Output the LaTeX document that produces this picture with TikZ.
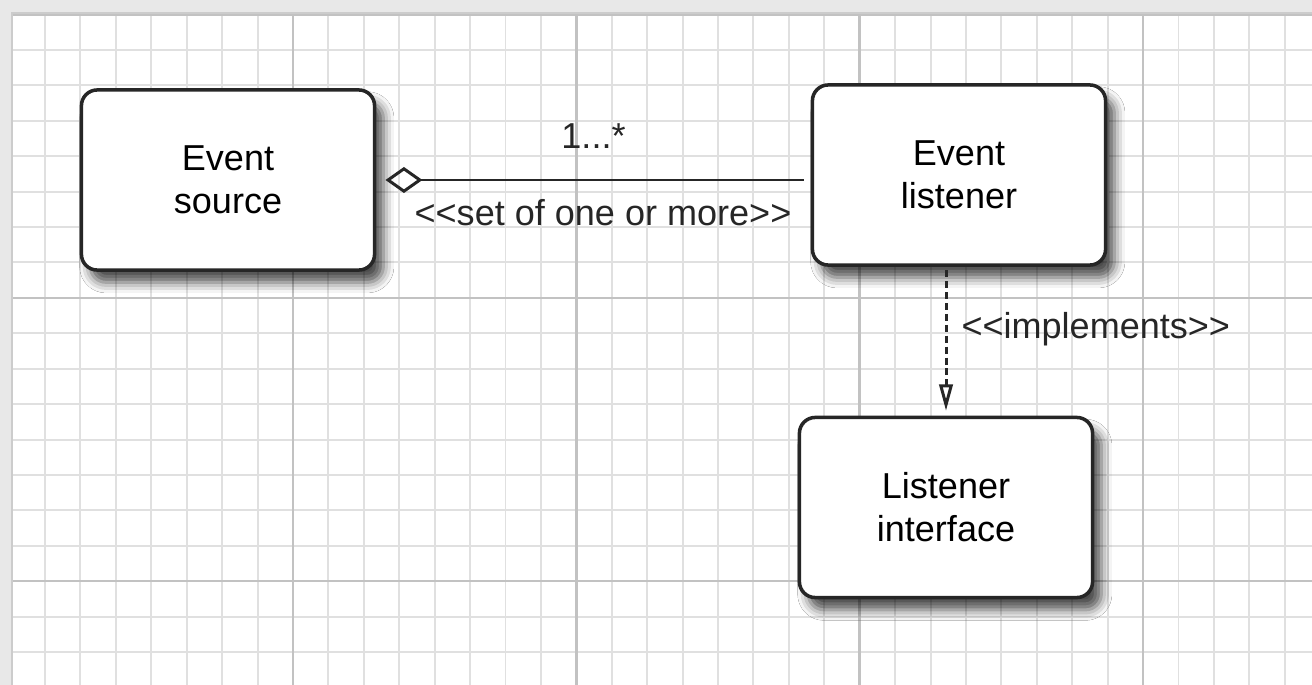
\documentclass[tikz,border=0pt]{standalone}
\usepackage{fontspec}
\setmainfont{Liberation Sans}
\usetikzlibrary{arrows.meta,positioning,shadows.blur}

\begin{document}
\begin{tikzpicture}[x=0.01cm, y=-0.01cm,
    classbox/.style={draw=black!85, line width=1pt, rounded corners=4.5pt, fill=white, minimum width=2.93cm, minimum height=1.8cm, align=center, font=\fontsize{10.25}{12.2}\selectfont, blur shadow={shadow xshift=2.5pt, shadow yshift=-3.5pt, shadow blur radius=3pt, shadow opacity=70}},
    tag/.style={inner sep=0pt, font=\fontsize{10.25}{12.2}\selectfont},
    aggregation/.style={{Diamond[open, length=10.5pt, width=7.4pt]}-, line width=0.85pt, black!85},
    realization/.style={-{Triangle[open, length=7.5pt, width=3.8pt]}, dash pattern=on 2pt off 1.1pt, line width=0.85pt, black!85},
    minorline/.style={black!12, line width=0.55pt},
    majorline/.style={black!24, line width=0.7pt}
]

% Sheet
\useasboundingbox (0,0) rectangle (1312,685);
\fill[black!9] (0,0) rectangle (1312,685);
\fill[white] (12,13) rectangle (1312,685);
\begin{scope}
\clip (12,13) rectangle (1312,685);
\draw[minorline, step=0.354cm, shift={(9.6,14.5)}] (-50,-50) grid (1350,700);
\draw[majorline, step=2.832cm, shift={(9.6,14.5)}] (-50,-50) grid (1350,700);
\end{scope}
\draw[black!20, line width=0.8pt] (12,685) -- (12,13) -- (1312,13);

% Classes
\node[classbox] (source) at (228,180) {Event\\source};
\node[classbox] (listener) at (959,175) {Event\\listener};
\node[classbox] (interface) at (946,507.5) {Listener\\interface};

% Aggregation
\draw[aggregation, shorten <=2.6pt, shorten >=2pt] (source.east) -- (source.east -| listener.west)
    node[tag, midway, above=8.5pt] (mult) {1...*}
    node[tag, midway, below=5pt, xshift=2.7pt] (setlbl) {<\kern0pt<set of one or more>\kern0pt>};

% Realization
\draw[realization, shorten <=1pt, shorten >=1.4pt] (listener.south -| interface.north) -- (interface.north)
    node[tag, pos=0.42, anchor=west, xshift=4pt] (impl) {<\kern0pt<implements>\kern0pt>};

\end{tikzpicture}
\end{document}
